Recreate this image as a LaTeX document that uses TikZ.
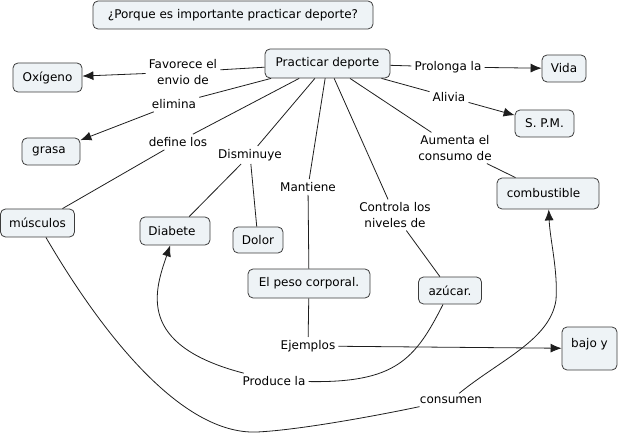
\documentclass[tikz,border=0pt]{standalone}
\usepackage{fontspec}
\setmainfont{DejaVu Sans}
\usetikzlibrary{arrows.meta}
\definecolor{boxfill}{RGB}{238,243,246}
\definecolor{boxline}{RGB}{60,60,60}
\definecolor{linkc}{RGB}{30,30,30}
\tikzset{
  concept/.style={draw=boxline, fill=boxfill, rounded corners=5pt, line width=0.8pt,
    inner sep=0pt, font=\fontsize{12}{15.5}\selectfont, align=center},
  lbl/.style={inner sep=3pt, font=\fontsize{12}{15.5}\selectfont, align=center},
  link/.style={draw=linkc, line width=0.8pt},
  arr/.style={link, -{Latex[length=11pt,width=9pt]}}
}
\begin{document}
\begin{tikzpicture}[x=1pt,y=-1pt]
\useasboundingbox (0,0) rectangle (620,435);
% concepts
\node[concept, minimum width=280pt, minimum height=28pt] (title) at (233,15) {¿Porque es importante practicar deporte?};
\node[concept, minimum width=125pt, minimum height=29pt] (prac) at (327.5,63.5) {Practicar deporte};
\node[concept, minimum width=69pt, minimum height=29pt] (oxi) at (47.5,77.5) {Oxígeno};
\node[concept, minimum width=44pt, minimum height=27pt] (vida) at (564,68.5) {Vida};
\node[concept, minimum width=59pt, minimum height=27pt] (spm) at (544.5,123.5) {S. P.M.};
\node[concept, minimum width=102pt, minimum height=31pt] (comb) at (548,193.5) {combustible\hspace*{9pt}};
\node[concept, minimum width=58pt, minimum height=27pt] (grasa) at (51,151.5) {grasa\hspace*{4pt}};
\node[concept, minimum width=74pt, minimum height=28pt] (musc) at (37.5,223) {músculos};
\node[concept, minimum width=70pt, minimum height=28pt] (diab) at (175,231) {Diabete\hspace*{6pt}};
\node[concept, minimum width=50pt, minimum height=26pt] (dolor) at (258,240) {Dolor};
\node[concept, minimum width=122pt, minimum height=29pt] (peso) at (309,283.5) {El peso corporal.};
\node[concept, minimum width=63pt, minimum height=27pt] (azucar) at (450,290.5) {azúcar.};
\node[concept, minimum width=55pt, minimum height=43pt] (bajo) at (589.5,348.5) {\raisebox{1.5pt}[0pt][0pt]{bajo y}};
% link labels
\node[lbl] (fav) at (183,72) {Favorece el\\envio de};
\node[lbl] (elim) at (174,104) {elimina};
\node[lbl] (def) at (178,142) {define los};
\node[lbl] (dism) at (250,155) {Disminuye};
\node[lbl] (mant) at (308,187) {Mantiene};
\node[lbl] (contr) at (395,215) {Controla los\\niveles de};
\node[lbl] (prol) at (448,67) {Prolonga la};
\node[lbl] (aliv) at (449,97) {Alivia};
\node[lbl] (aum) at (455,148) {Aumenta el\\consumo de};
\node[lbl] (ejem) at (308,346) {Ejemplos};
\node[lbl] (prod) at (274,381) {Produce la};
\node[lbl] (cons) at (451,400) {consumen};
% connectors
\draw[link] (prac) -- (fav);
\draw[arr] (fav) -- (oxi);
\draw[link] (prac) -- (elim);
\draw[arr] (elim) -- (grasa);
\draw[link] (prac) -- (def);
\draw[link] (def) -- (musc);
\draw[link] (prac) -- (dism);
\draw[link] (dism) -- (diab);
\draw[link] (dism) -- (dolor);
\draw[link] (prac) -- (mant);
\draw[link] (mant) -- (peso);
\draw[link] (prac) -- (contr);
\draw[link] (contr) -- (azucar);
\draw[link] (prac) -- (prol);
\draw[arr] (prol) -- (vida);
\draw[link] (prac) -- (aliv);
\draw[arr] (aliv) -- (spm);
\draw[link] (prac) -- (aum);
\draw[link] (aum) -- (comb);
\draw[link] (peso) -- (ejem);
\draw[arr] (ejem) -- (bajo);
\draw[arr] (prod) .. controls (135,345) and (155,290) .. (diab);
\draw[link] (azucar) .. controls (415,360) and (395,383) .. (prod);
\coordinate (cb) at (257,432);
\coordinate (cr) at (556,300);
\draw[link] (musc) .. controls (100,330) and (180,435) .. (cb) .. controls (300,430) and (380,415) .. (cons);
\draw[arr] (cons) .. controls (500,360) and (550,340) .. (cr) .. controls (558,270) and (550,240) .. (comb);
\end{tikzpicture}
\end{document}
